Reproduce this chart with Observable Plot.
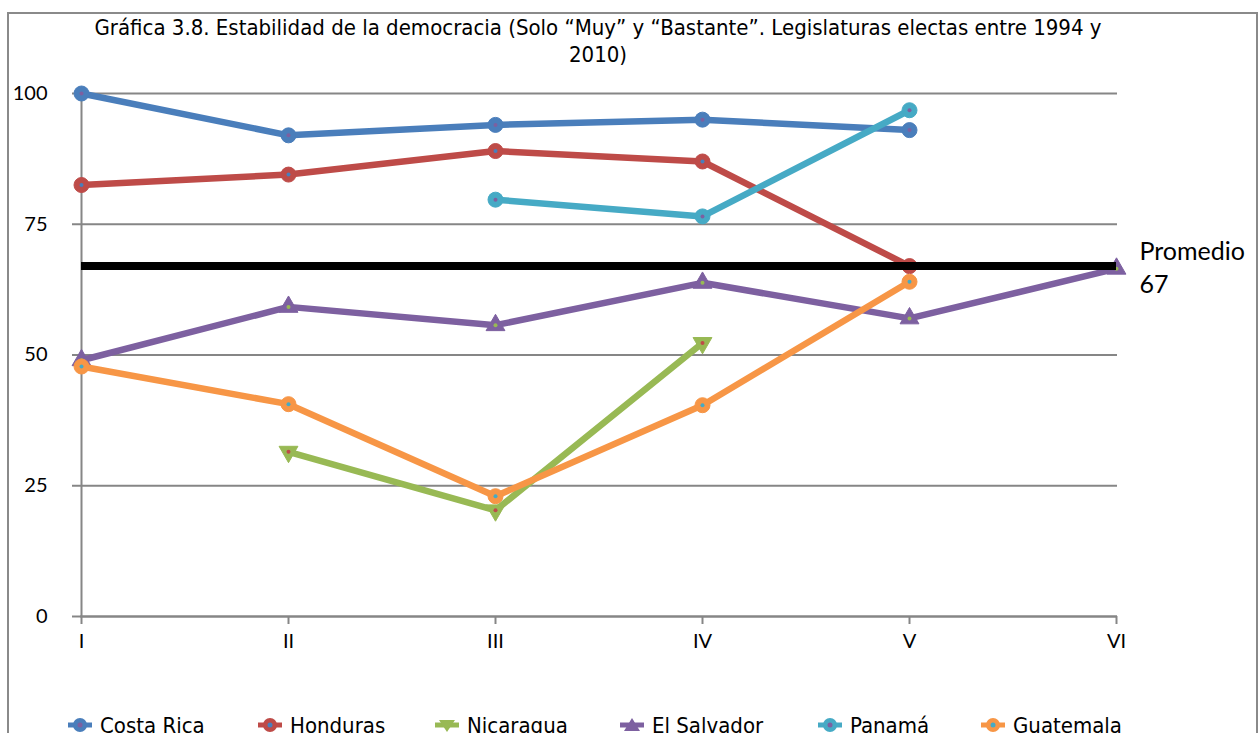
<!DOCTYPE html>
<html>
<head>
<meta charset="utf-8">
<script src="https://cdn.jsdelivr.net/npm/d3@7"></script>
<script src="https://cdn.jsdelivr.net/npm/@observablehq/plot@0.6"></script>
<style>
  html, body { margin: 0; padding: 0; background: #fff; }
  #wrap { position: relative; width: 1260px; height: 733px; overflow: hidden; font-family: Lato, "Open Sans", sans-serif; }
  #frame { position: absolute; left: 7px; top: 12px; width: 1251px; height: 800px; border: 2px solid #8a8a8a; box-sizing: border-box; }
  #title { position: absolute; left: 30px; width: 1136px; top: 14px; text-align: center; font-family: "DejaVu Sans Condensed", "DejaVu Sans", sans-serif; font-size: 22px; line-height: 27px; color: #000; }
  #chart { position: absolute; left: 0; top: 75px; }
  #legend { position: absolute; left: 0; top: 712px; width: 1260px; height: 30px; }
  .item { position: absolute; top: 0; display: flex; align-items: center; font-family: "DejaVu Sans Condensed", "DejaVu Sans", sans-serif; font-size: 22px; color: #000; white-space: nowrap; }
  .item svg { margin-right: 8px; }
</style>
</head>
<body>
<div id="wrap">
  <div id="frame"></div>
  <div id="title">Gráfica 3.8. Estabilidad de la democracia (Solo “Muy” y “Bastante”. Legislaturas electas entre 1994 y<br>2010)</div>
  <div id="chart"></div>
  <div id="legend"></div>
</div>
<script>
// ---- data ----
const categories = ["I", "II", "III", "IV", "V", "VI"];
const seriesNames = ["Costa Rica", "Honduras", "Nicaragua", "El Salvador", "Panamá", "Guatemala"];
const costaRica  = [100, 92, 94, 95, 93, null];
const honduras   = [82.5, 84.5, 89, 87, 67, null];
const nicaragua  = [null, 31.5, 20.3, 52.3, null, null];
const elSalvador = [49, 59.2, 55.7, 63.8, 57, 66.5];
const panama     = [null, null, 79.7, 76.5, 96.8, null];
const guatemala  = [47.8, 40.6, 23, 40.4, 64, null];
const promedio = 67;
const yTicks = [0, 25, 50, 75, 100];

const colors = ["#4A7EBB", "#BE4B48", "#98B954", "#7D60A0", "#46AAC5", "#F79646"];
const innerColors = ["#7D60A0", "#4A7EBB", "#BE4B48", "#98B954", "#7D60A0", "#46AAC5"];
const symbols = ["circle", "circle", "triangle", "triangle", "circle", "circle"];
const rotations = [0, 0, 180, 0, 0, 0];

const allValues = [costaRica, honduras, nicaragua, elSalvador, panama, guatemala];
const rows = [];
seriesNames.forEach((name, i) => {
  allValues[i].forEach((v, j) => {
    if (v != null) rows.push({series: name, cat: categories[j], value: v, idx: i});
  });
});

const gray = "#868686";
const marks = [
  Plot.ruleY([25, 50, 75, 100], {stroke: gray, strokeWidth: 2}),
  Plot.ruleY([0], {stroke: gray, strokeWidth: 2.5}),
  Plot.ruleX(["I"], {y1: 0, y2: 100, stroke: gray, strokeWidth: 2}),
  Plot.axisY(yTicks, {tickSize: 8, tickPadding: 25, stroke: gray, strokeWidth: 2, fontSize: 20, fill: "#000", label: null}),
  Plot.axisX(categories, {tickSize: 8, tickPadding: 9, stroke: gray, strokeWidth: 2, fontSize: 20, fill: "#000", label: null})
];
seriesNames.forEach((name, i) => {
  const d = rows.filter(r => r.series === name);
  marks.push(Plot.line(d, {x: "cat", y: "value", stroke: colors[i], strokeWidth: 6.5, strokeLinejoin: "round", strokeLinecap: "round"}));
  marks.push(Plot.dot(d, {x: "cat", y: "value", symbol: symbols[i], rotate: rotations[i], r: symbols[i] === "circle" ? 7.5 : 7, fill: colors[i], stroke: colors[i], strokeWidth: 1}));
  marks.push(Plot.dot(d, {x: "cat", y: "value", r: 2, fill: innerColors[i], stroke: "none"}));
});
marks.push(Plot.ruleY([promedio], {y: d => d, x1: () => "I", x2: () => "VI", stroke: "#000", strokeWidth: 8}));
marks.push(Plot.text([promedio], {x: () => "VI", y: d => d, text: d => "Promedio\n" + d, dx: 23, textAnchor: "start", lineAnchor: "middle", fontSize: 25, lineHeight: 1.32, fill: "#000"}));

const chart = Plot.plot({
  width: 1260,
  height: 600,
  marginLeft: 80,
  marginRight: 143,
  marginTop: 18,
  marginBottom: 59,
  style: {fontFamily: "Lato, 'Open Sans', sans-serif", background: "transparent", overflow: "visible"},
  x: {type: "point", domain: categories, padding: 0},
  y: {domain: [0, 100]},
  marks
});
document.getElementById("chart").appendChild(chart);

// ---- legend ----
const legendX = [68, 258, 435, 620, 818, 981];
const legend = document.getElementById("legend");
seriesNames.forEach((name, i) => {
  const item = document.createElement("div");
  item.className = "item";
  item.style.left = legendX[i] + "px";
  const sym = symbols[i] === "circle"
    ? `<circle cx="12" cy="13" r="7" fill="${colors[i]}"/><circle cx="12" cy="13" r="2.5" fill="${innerColors[i]}"/>`
    : (rotations[i] === 180
      ? `<path d="M4,8 L20,8 L12,20 Z" fill="${colors[i]}"/>`
      : `<path d="M4,19 L20,19 L12,6 Z" fill="${colors[i]}"/>`);
  item.innerHTML = `<svg width="24" height="26"><line x1="0" y1="13" x2="24" y2="13" stroke="${colors[i]}" stroke-width="5"/>${sym}</svg><span>${name}</span>`;
  legend.appendChild(item);
});
</script>
</body>
</html>
